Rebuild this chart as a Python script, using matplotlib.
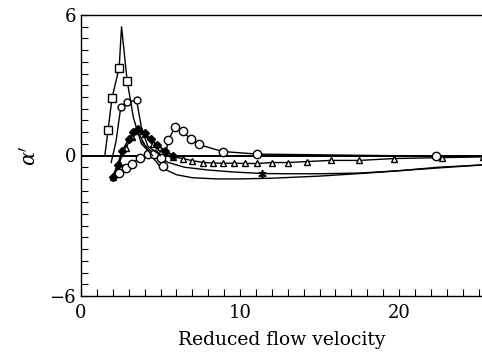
import numpy as np
import matplotlib.pyplot as plt
from matplotlib.ticker import MultipleLocator

plt.rcParams["font.family"] = "DejaVu Serif"
plt.rcParams["mathtext.fontset"] = "dejavuserif"

# open squares: sharp resonance peak
sq_x = [1.5, 1.7, 1.95, 2.4, 2.55, 2.9, 3.3, 3.8, 4.5]
sq_y = [0.0, 1.07, 2.45, 3.75, 5.5, 3.2, 1.6, 0.5, 0.0]
sq_mark = [1, 2, 3, 5]

# small circles, second peak
sc_x = [1.9, 2.2, 2.5, 2.9, 3.5, 3.8, 4.2, 5.0]
sc_y = [-0.3, 0.6, 2.05, 2.3, 2.35, 1.2, 0.4, 0.0]
sc_mark = [2, 3, 4]

# open circles
ci_x = [2.4, 2.8, 3.2, 3.7, 4.2, 4.6, 5.0, 5.15, 5.5, 5.9, 6.4, 6.9, 7.4, 8.9, 11.1, 22.3, 25.3]
ci_y = [-0.75, -0.55, -0.35, -0.1, 0.05, 0.05, -0.1, -0.45, 0.65, 1.22, 1.03, 0.7, 0.47, 0.17, 0.06, -0.03, -0.03]
ci_mark = list(range(16))

# filled diamonds
di_x = [2.0, 2.3, 2.6, 3.0, 3.3, 3.6, 4.0, 4.4, 4.8, 5.3, 5.8]
di_y = [-0.9, -0.4, 0.2, 0.7, 1.0, 1.15, 0.95, 0.7, 0.45, 0.2, 0.0]

# small open triangles
tr_x = [2.0, 2.4, 2.8, 3.2, 3.6, 4.0, 4.5, 5.0, 5.8, 6.4, 7.0, 7.7, 8.3, 8.9, 9.6, 10.3, 11.1,
        12.0, 13.0, 14.2, 15.7, 17.5, 19.7, 22.7, 25.3]
tr_y = [-0.9, -0.3, 0.3, 0.8, 1.05, 0.9, 0.5, 0.15, -0.05, -0.13, -0.22, -0.3, -0.32, -0.33, -0.33,
        -0.34, -0.34, -0.3, -0.3, -0.26, -0.21, -0.21, -0.13, -0.09, -0.06]

# star curve
st_x = [3.8, 4.5, 5.5, 6.5, 8.0, 9.5, 11.4, 13.0, 15.0, 17.5, 20.0, 22.5, 25.3]
st_y = [0.6, 0.1, -0.3, -0.5, -0.62, -0.7, -0.77, -0.78, -0.78, -0.75, -0.65, -0.5, -0.4]

# lowest plain curve
lo_x = [3.6, 4.2, 5.0, 6.0, 7.0, 8.5, 10.0, 12.0, 15.0, 18.0, 21.0, 25.3]
lo_y = [1.0, 0.2, -0.5, -0.82, -0.95, -1.0, -1.0, -0.97, -0.88, -0.75, -0.6, -0.4]

fig = plt.figure(figsize=(4.82, 3.58), dpi=100)
ax = fig.add_axes([81 / 482, 62 / 358, 401 / 482, 281 / 358])

ax.axhline(0, color="black", lw=1.4, zorder=1)
ax.plot(lo_x, lo_y, color="black", lw=1.0)
ax.plot(st_x, st_y, color="black", lw=1.0, marker=(6, 2, 0), ms=6, mew=1.2, markevery=[6])
ax.plot(tr_x, tr_y, color="black", lw=1.0, marker="^", ms=4, mfc="white", mew=1.0)
ax.plot(di_x, di_y, color="black", lw=1.2, marker="D", ms=4.5, mfc="black")
ax.plot(ci_x, ci_y, color="black", lw=1.0, marker="o", ms=6, mfc="white", mew=1.0, markevery=ci_mark)
ax.plot(sc_x, sc_y, color="black", lw=1.0, marker="o", ms=5, mfc="white", mew=1.0, markevery=sc_mark)
ax.plot(sq_x, sq_y, color="black", lw=1.0, marker="s", ms=6, mfc="white", mew=1.0, markevery=sq_mark)

ax.set_xlim(0, 25.22)
ax.set_ylim(-6, 6)
ax.set_xticks([0, 10, 20])
ax.set_yticks([-6, 0, 6])
ax.set_yticklabels(["\u22126", "0", "6"])
ax.xaxis.set_minor_locator(MultipleLocator(1))
ax.yaxis.set_minor_locator(MultipleLocator(0.5))
ax.tick_params(which="both", direction="in", length=5, width=0.8, labelsize=13)
ax.tick_params(axis="x", pad=6)
ax.spines["right"].set_visible(False)
for s in ["left", "top", "bottom"]:
    ax.spines[s].set_linewidth(1.0)

ax.set_xlabel("Reduced flow velocity", fontsize=13.5, labelpad=6)
ax.set_ylabel(r"$\alpha'$", fontsize=15)
ax.yaxis.set_label_coords(-0.102, 0.5)

fig.savefig("out.png", dpi=100)
